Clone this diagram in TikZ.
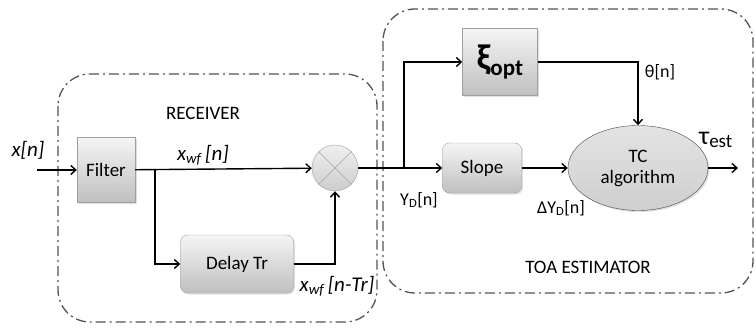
\documentclass[tikz,border=0pt]{standalone}
\usepackage{fontspec}
\setmainfont{Carlito}
\usetikzlibrary{shapes.geometric,shadows,arrows.meta}

\begin{document}
\begin{tikzpicture}[x=1pt,y=-1pt,
    blockbox/.style={draw=gray!75, top color=gray!8, bottom color=gray!50,
      drop shadow={opacity=0.25,shadow xshift=1.5pt,shadow yshift=-1.5pt},
      font=\fontsize{19}{21}\selectfont},
    sig/.style={line width=1.4pt,-{Straight Barb[length=5pt,width=9pt]}},
    group/.style={gray!65!black,line width=1.3pt,dash pattern=on 10pt off 4pt on 2pt off 4pt,rounded corners=32pt},
    lbl/.style={font=\fontsize{18}{20}\selectfont},
    itlbl/.style={font=\fontsize{21}{23}\selectfont\itshape}]
    \useasboundingbox (0,0) rectangle (756,329);
    % dash-dot groups
    \draw[group] (58,74) rectangle (377,322);
    \draw[group] (383,9) rectangle (753,293);
    \node[lbl,font=\fontsize{19}{21}\selectfont] (rx) at (203,113) {RECEIVER};
    \node[lbl,font=\fontsize{19}{21}\selectfont] (toa) at (588,267) {TOA ESTIMATOR};
    % blocks
    \node[blockbox,minimum width=58pt,minimum height=65pt] (filter) at (106,170) {Filter};
    \node[blockbox,rounded corners=7pt,minimum width=113pt,minimum height=58pt] (delay) at (237,264) {Delay Tr};
    \node[circle,draw=gray!75,inner sep=0pt,minimum size=46pt,top color=gray!12,bottom color=gray!40] (mix) at (335,168) {};
    \draw[gray!70] (mix.45) -- (mix.225) (mix.135) -- (mix.315);
    \node[blockbox,minimum width=75pt,minimum height=67pt,font=\fontsize{36}{38}\selectfont\bfseries] (xi) at (500,62) {ξ\textsubscript{\fontsize{23}{25}\selectfont opt}};
    \node[blockbox,rounded corners=7pt,minimum width=79pt,minimum height=50pt] (slope) at (482,168) {Slope};
    \node[ellipse,draw=gray!55!black,top color=gray!22,bottom color=gray!38,minimum width=140pt,minimum height=85pt,align=center,inner sep=0pt,
      font=\fontsize{19}{21}\selectfont,
      drop shadow={opacity=0.25,shadow xshift=1.5pt,shadow yshift=-1.5pt}] (tc) at (638,168) {TC\\algorithm};
    % connectors
    \coordinate (in) at (37,170);
    \coordinate (br1) at (155,170);
    \coordinate (br2) at (404,168);
    \coordinate (out) at (738,168);
    \draw[sig] (in) -- (filter);
    \draw[sig] (filter) -- (mix);
    \draw[sig] (br1) |- (delay);
    \draw[sig] (delay) -| (mix);
    \draw[sig] (mix) -- (slope);
    \draw[sig] (br2) |- (xi);
    \draw[sig] (xi) -| (tc);
    \draw[sig] (slope) -- (tc);
    \draw[sig] (tc) -- (out);
    % labels
    \node[itlbl] (xn) at (28,150) {x[n]};
    \node[itlbl] (xwf) at (203,155) {x\textsubscript{wf}\,[n]};
    \node[itlbl] (xwfd) at (337,286) {x\textsubscript{wf}\,[n-Tr]};
    \node[lbl] (yd) at (419,200) {Y\textsubscript{D}[n]};
    \node[lbl] (th) at (660,72) {θ[n]};
    \node[lbl] (dyd) at (561,208) {ΔY\textsubscript{D}[n]};
    \node[font=\fontsize{26}{28}\selectfont] (tau) at (716,140) {τ\textsubscript{\fontsize{19}{21}\selectfont est}};
\end{tikzpicture}
\end{document}
